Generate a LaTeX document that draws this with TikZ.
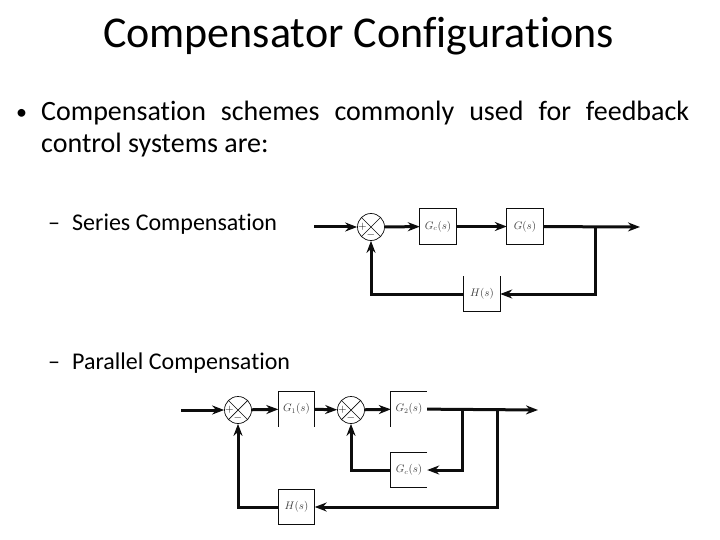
\documentclass[tikz,border=0pt]{standalone}
\usepackage{fontspec}
\setmainfont[Ligatures=NoCommon]{Carlito}
\usetikzlibrary{arrows.meta,calc}
\definecolor{ink}{gray}{0.05}
\tikzset{
  x=1pt,y=-1pt,
  heading/.style={font=\fontsize{44}{48}\selectfont,text=black,anchor=center,inner sep=0},
  bodytext/.style={font=\fontsize{28}{32.5}\selectfont,text=black,anchor=north west,inner sep=0,align=left},
  bulletmark/.style={font=\fontsize{22}{24}\selectfont,text=black,anchor=base west,inner sep=0},
  subitem/.style={font=\fontsize{24}{28}\selectfont,text=black,anchor=base west,inner sep=0},
  blockbox/.style={minimum width=36pt,minimum height=35pt,inner sep=0,font=\fontsize{10.5}{12}\selectfont,text=ink!80},
  sumjunction/.style={circle,draw=ink,line width=0.7pt,minimum size=27pt,inner sep=0},
  blockedge/.style={draw=ink,line width=0.7pt},
  signal/.style={draw=ink,line width=3pt,-{Stealth[length=12pt,width=9pt]}},
  sign/.style={font=\fontsize{11}{12}\selectfont,text=ink,inner sep=0},
}
\newcommand{\sumcross}[1]{%
  \draw[blockedge] (#1.north west)--(#1.south east) (#1.north east)--(#1.south west);}
\begin{document}
\begin{tikzpicture}
\useasboundingbox (0,0) rectangle (720,540);
\node[heading] (title) at (358.5,36.5) {Compensator Configurations};
\node[bulletmark] (bullet) at (16,120) {•};
\node[bodytext] (para) at (41,100.5) {\makebox[648pt][s]{Compensation schemes commonly used for feedback}\\ control systems are:};
\node[subitem] (serd) at (48,230.5) {–};
\node[subitem] (ser) at (72,230.5) {Series Compensation};
\node[subitem] (pard) at (48,369.5) {–};
\node[subitem] (par) at (72,369.5) {Parallel Compensation};

% series
\coordinate (ain) at (314,227);
\node[sumjunction] (as) at (371,227) {};
\node[blockbox] (agc) at (438,226.5) {$G_c(s)$};
\node[blockbox] (ag) at (525,226.5) {$G(s)$};
\node[blockbox] (ah) at (482,294) {$H(s)$};
\coordinate (aout) at (640,227);
\coordinate (abr) at (595,227);
\sumcross{as}
\draw[blockedge] (agc.north west) rectangle (agc.south east);
\draw[blockedge] (ag.north west) rectangle (ag.south east);
\draw[blockedge] (ah.north west)--(ah.south west)--(ah.south east)--(ah.north east);
\draw[signal] (ain)--(as);
\draw[signal] (as)--(agc);
\draw[signal] (agc)--(ag);
\draw[signal] (ag)--(aout);
\draw[signal] (abr) |- (ah.east);
\draw[signal] (ah.west) -| (as.south);
\node[sign] (asp) at ($(as)+(-8.5,0)$) {$+$};
\node[sign] (asm) at ($(as)+(0,7.5)$) {$-$};

% parallel
\coordinate (bin) at (181,410);
\node[sumjunction] (bs1) at (238,410) {};
\node[blockbox] (bg1) at (296.5,409) {$G_1(s)$};
\node[sumjunction] (bs2) at (351,410) {};
\node[blockbox] (bg2) at (409,409) {$G_2(s)$};
\node[blockbox] (bgc) at (409,470) {$G_c(s)$};
\node[blockbox] (bh) at (296.5,507) {$H(s)$};
\coordinate (bbr1) at (462,410);
\coordinate (bbr2) at (497,410);
\coordinate (bout) at (538,410);
\sumcross{bs1}
\sumcross{bs2}
\draw[blockedge] (bg1.south west)--(bg1.north west)--(bg1.north east)--(bg1.south east);
\draw[blockedge] (bg2.south west)--(bg2.north west)--(bg2.north east);
\draw[blockedge] (bgc.north east)--(bgc.north west)--(bgc.south west)--(bgc.south east);
\draw[blockedge] (bh.north west) rectangle (bh.south east);
\draw[signal] (bin)--(bs1);
\draw[signal] (bs1)--(bg1);
\draw[signal] (bg1)--(bs2);
\draw[signal] (bs2)--(bg2);
\draw[signal] (bg2)--(bout);
\draw[signal] (bbr1) |- (bgc.east);
\draw[signal] (bbr2) |- (bh.east);
\draw[signal] (bgc.west) -| (bs2.south);
\draw[signal] (bh.west) -| (bs1.south);
\node[sign] (b1p) at ($(bs1)+(-8.5,0)$) {$+$};
\node[sign] (b1m) at ($(bs1)+(0,7.5)$) {$-$};
\node[sign] (b2p) at ($(bs2)+(-8.5,0)$) {$+$};
\node[sign] (b2m) at ($(bs2)+(0,7.5)$) {$-$};
\end{tikzpicture}
\end{document}
